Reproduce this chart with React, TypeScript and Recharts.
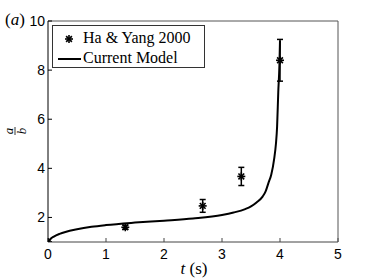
import { ComposedChart, Line, Scatter, ErrorBar, XAxis, YAxis } from 'recharts';

// experimental points (Ha & Yang 2000)
const expT = [0, 1.333, 2.667, 3.333, 4.0];
const expRatio = [1, 1.6, 2.47, 3.67, 8.4];
const expErr = [0, 0.08, 0.26, 0.37, 0.85];

// current model curve
const modelT = [0, 0.05, 0.1, 0.2, 0.3, 0.5, 0.75, 1, 1.5, 2, 2.5, 3, 3.2, 3.4, 3.5, 3.6, 3.7, 3.75, 3.8, 3.85, 3.9, 3.93, 3.95, 3.97, 3.99, 4.0];
const modelRatio = [1, 1.14, 1.22, 1.33, 1.41, 1.52, 1.62, 1.69, 1.79, 1.87, 1.96, 2.1, 2.2, 2.34, 2.45, 2.62, 2.85, 3.05, 3.4, 3.75, 4.4, 5.0, 5.7, 7.1, 8.2, 9.2];

const xTicks = [0, 1, 2, 3, 4, 5];
const yTicks = [2, 4, 6, 8, 10];

const expData = expT.map((t, i) => ({ t, ratio: expRatio[i], err: expErr[i] }));
const modelData = modelT.map((t, i) => ({ t, model: modelRatio[i] }));

const tickFont = { fontFamily: 'Liberation Sans, Arial, sans-serif', fontSize: 14, fill: '#000' };
const serif = 'Liberation Serif, Times New Roman, serif';

const Star = ({ cx, cy }: any) => {
  const r = 4;
  const d = r * 0.72;
  return (
    <g stroke="#000" strokeWidth={1.6}>
      <line x1={cx - r} y1={cy} x2={cx + r} y2={cy} />
      <line x1={cx} y1={cy - r} x2={cx} y2={cy + r} />
      <line x1={cx - d} y1={cy - d} x2={cx + d} y2={cy + d} />
      <line x1={cx - d} y1={cy + d} x2={cx + d} y2={cy - d} />
    </g>
  );
};

const LegendBox = () => (
  <div
    style={{
      position: 'absolute',
      left: 52,
      top: 25,
      width: 151,
      height: 41,
      border: '1px solid #333',
      background: '#fff',
      fontFamily: serif,
      fontSize: 16,
    }}
  >
    <svg width={30} height={41} style={{ position: 'absolute', left: 0, top: 0 }}>
      <Star cx={16} cy={13} />
      <line x1={5} y1={33} x2={28} y2={33} stroke="#000" strokeWidth={2} />
    </svg>
    <div style={{ position: 'absolute', left: 30, top: 3, lineHeight: '18px', whiteSpace: 'nowrap' }}>Ha &amp; Yang 2000</div>
    <div style={{ position: 'absolute', left: 30, top: 23, lineHeight: '18px', whiteSpace: 'nowrap' }}>Current Model</div>
  </div>
);

export default function App() {
  return (
    <div style={{ position: 'absolute', left: 0, top: 0, width: 374, height: 279, background: '#fff' }}>
      <ComposedChart width={374} height={279} margin={{ top: 20, right: 35, bottom: 7, left: 8 }}>
        <XAxis
          xAxisId={0}
          dataKey="t"
          type="number"
          domain={[0, 5]}
          ticks={xTicks}
          allowDataOverflow
          height={30}
          stroke="#444"
          tickSize={-4}
          tickMargin={11}
          tick={tickFont}
        />
        <XAxis
          xAxisId="top"
          orientation="top"
          dataKey="t"
          type="number"
          domain={[0, 5]}
          ticks={xTicks}
          allowDataOverflow
          height={1}
          stroke="#555"
          tickSize={-4}
          tickMargin={0}
          tick={false}
        />
        <YAxis
          yAxisId={0}
          type="number"
          domain={[1, 10]}
          ticks={yTicks}
          allowDataOverflow
          width={40}
          stroke="#000"
          tickSize={-4}
          tickMargin={7}
          tick={tickFont}
        />
        <YAxis
          yAxisId="right"
          orientation="right"
          type="number"
          domain={[1, 10]}
          ticks={yTicks}
          allowDataOverflow
          width={1}
          stroke="#555"
          tickSize={-4}
          tickMargin={0}
          tick={false}
        />
        <Line
          data={modelData}
          dataKey="model"
          type="monotone"
          stroke="#000"
          strokeWidth={2}
          dot={false}
          isAnimationActive={false}
        />
        <Line
          data={modelData}
          xAxisId="top"
          yAxisId="right"
          dataKey="model"
          stroke="none"
          dot={false}
          activeDot={false}
          isAnimationActive={false}
        />
        <Scatter data={expData} dataKey="ratio" shape={<Star />} isAnimationActive={false}>
          <ErrorBar dataKey="err" direction="y" width={3} stroke="#000" strokeWidth={1.5} />
        </Scatter>
      </ComposedChart>
      <LegendBox />
      <svg width={374} height={279} style={{ position: 'absolute', left: 0, top: 0, pointerEvents: 'none' }}>
        <text x={5} y={25} fontFamily={serif} fontSize={17}>
          (<tspan fontStyle="italic">a</tspan>)
        </text>
        <g transform="translate(15,131) rotate(-90)" fontFamily={serif} fontStyle="italic" fontSize={13}>
          <text x={0} y={-2.5} textAnchor="middle">a</text>
          <line x1={-4} y1={0} x2={4} y2={0} stroke="#000" strokeWidth={0.8} />
          <text x={0} y={10.5} textAnchor="middle">b</text>
        </g>
        <text x={194} y={274} textAnchor="middle" fontFamily={serif} fontSize={17}>
          <tspan fontStyle="italic">t</tspan> (s)
        </text>
      </svg>
    </div>
  );
}
